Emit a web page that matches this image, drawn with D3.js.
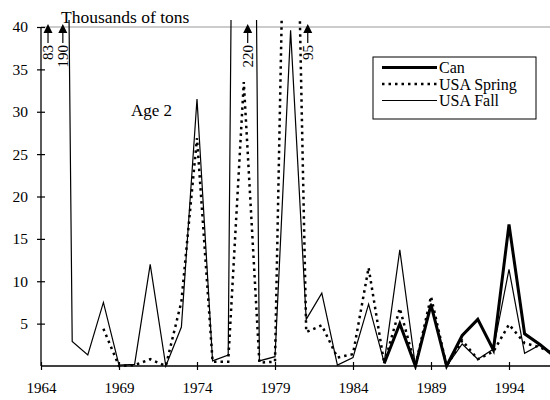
<!DOCTYPE html>
<html>
<head>
<meta charset="utf-8">
<script src="https://cdn.jsdelivr.net/npm/d3@7"></script>
<style>
  body { margin: 0; background: #fff; }
  svg { display: block; font-family: "Liberation Serif", "Times New Roman", serif; }
</style>
</head>
<body>
<svg id="chart" width="550" height="400"></svg>
<script>
// Data (thousands of tons, age 2)
const years = d3.range(1964, 1998);

const can = [null, null, null, null, null, null, null, null, null, null,
  null, null, null, null, null, null, null, null, null, null, null, null,
  0.3, 5.0, 0, 7.2, 0, 3.6, 5.5, 1.9, 16.7, 3.8, 2.5, 1.0];

const usaSpring = [null, null, null, null, 4.4, 0, 0.1, 0.8, 0, 7.6,
  26.9, 0.5, 0.5, 33.5, 0.4, 0.5, 95, 4.0, 4.8, 1.0, 1.4, 11.6,
  0.3, 6.8, 0, 8.2, 0, 3.0, 0.8, 1.7, 4.9, 2.7, 2.2, 1.3];

const usaFall = [83, 190, 2.9, 1.3, 7.5, 0.1, 0.2, 12, 0, 4.6,
  31.5, 0.6, 1.3, 220, 0.6, 1.1, 39.6, 5.5, 8.6, 0.1, 1.0, 7.3,
  0.4, 13.7, 0, 7.4, 0, 2.6, 0.8, 2.0, 11.4, 1.5, 2.5, 1.2];

const xTicks = [1964, 1969, 1974, 1979, 1984, 1989, 1994];
const yTicks = [5, 10, 15, 20, 25, 30, 35, 40];

// off-scale values marked with arrows
const noteLabels = ["83", "190", "220", "95"];
const noteYears = [1964.45, 1965.4, 1977.25, 1981.1];

const svg = d3.select("#chart");

const x = d3.scaleLinear().domain([1964, 1997]).range([41, 555.8]);
const y = d3.scaleLinear().domain([0, 40]).range([366, 27]);

// clip so the huge values run off the top
svg.append("defs").append("clipPath").attr("id", "plot")
  .append("rect").attr("x", 41).attr("y", 20).attr("width", 509).attr("height", 350);

// top reference line at 40
svg.append("line")
  .attr("x1", x(1964)).attr("x2", 550)
  .attr("y1", y(40)).attr("y2", y(40))
  .attr("stroke", "#999").attr("stroke-width", 1.2);

// axes
const xAxis = d3.axisBottom(x).tickValues(xTicks).tickFormat(d3.format("d")).tickSizeOuter(0);
const gx = svg.append("g").attr("transform", `translate(0,${y(0)})`).call(xAxis);
gx.select(".domain").attr("d", `M${x(1964)},0H550`).attr("stroke", "#000").attr("stroke-width", 1.3);
gx.selectAll(".tick line").attr("y1", -4).attr("y2", 4).attr("stroke-width", 1.2);
gx.selectAll(".tick text").attr("y", 22).attr("dy", "0.35em")
  .style("font-size", "15px").style("font-family", "Liberation Serif").attr("fill", "#000");

const yAxis = d3.axisLeft(y).tickValues(yTicks).tickSizeOuter(0);
const gy = svg.append("g").attr("transform", `translate(${x(1964)},0)`).call(yAxis);
gy.select(".domain").attr("d", `M0,${y(0)}V${y(40)}`).attr("stroke", "#000").attr("stroke-width", 1.3);
gy.selectAll(".tick line").attr("x1", -4).attr("x2", 4).attr("stroke-width", 1.2);
gy.selectAll(".tick text").attr("x", -13)
  .style("font-size", "15.5px").style("font-family", "Liberation Serif").attr("fill", "#000");

// series
const series = [
  { name: "USA Fall", values: usaFall, width: 1.2, dash: null },
  { name: "USA Spring", values: usaSpring, width: 2.5, dash: "2.5,4" },
  { name: "Can", values: can, width: 3, dash: null }
];

const line = d3.line()
  .defined(d => d[1] != null)
  .x(d => x(d[0]))
  .y(d => y(d[1]));

const plot = svg.append("g").attr("clip-path", "url(#plot)");
series.forEach(s => {
  plot.append("path")
    .datum(years.map((yr, i) => [yr, s.values[i]]))
    .attr("fill", "none")
    .attr("stroke", "#000")
    .attr("stroke-width", s.width)
    .attr("stroke-dasharray", s.dash)
    .attr("stroke-linejoin", "miter")
    .attr("d", line);
});

// arrow notes for values above the scale
noteLabels.forEach((lab, i) => {
  const nx = x(noteYears[i]);
  const g = svg.append("g");
  g.append("path")
    .attr("d", `M${nx},24L${nx - 4.5},33L${nx + 4.5},33Z`)
    .attr("fill", "#000");
  g.append("line")
    .attr("x1", nx).attr("x2", nx).attr("y1", 33).attr("y2", 43)
    .attr("stroke", "#000").attr("stroke-width", 1.2);
  g.append("text")
    .attr("transform", `translate(${nx},45) rotate(-90)`)
    .attr("text-anchor", "end")
    .attr("dominant-baseline", "central")
    .style("font-size", "15px")
    .text(lab);
});

// labels
svg.append("text").attr("x", 61).attr("y", 23)
  .style("font-size", "17.5px").text("Thousands of tons");
svg.append("text").attr("x", 131).attr("y", 116)
  .style("font-size", "17px").text("Age 2");

// legend
const legend = svg.append("g").attr("transform", "translate(373,57)");
legend.append("rect").attr("width", 163).attr("height", 62)
  .attr("fill", "#fff").attr("stroke", "#000").attr("stroke-width", 1);
series.slice().reverse().forEach((s, i) => {
  const ly = 10.5 + i * 16.5;
  legend.append("line")
    .attr("x1", 9).attr("x2", 64).attr("y1", ly).attr("y2", ly)
    .attr("stroke", "#000").attr("stroke-width", s.width)
    .attr("stroke-dasharray", s.dash);
  legend.append("text").attr("x", 66).attr("y", ly).attr("dy", "0.35em")
    .style("font-size", "16px").text(s.name);
});
</script>
</body>
</html>
